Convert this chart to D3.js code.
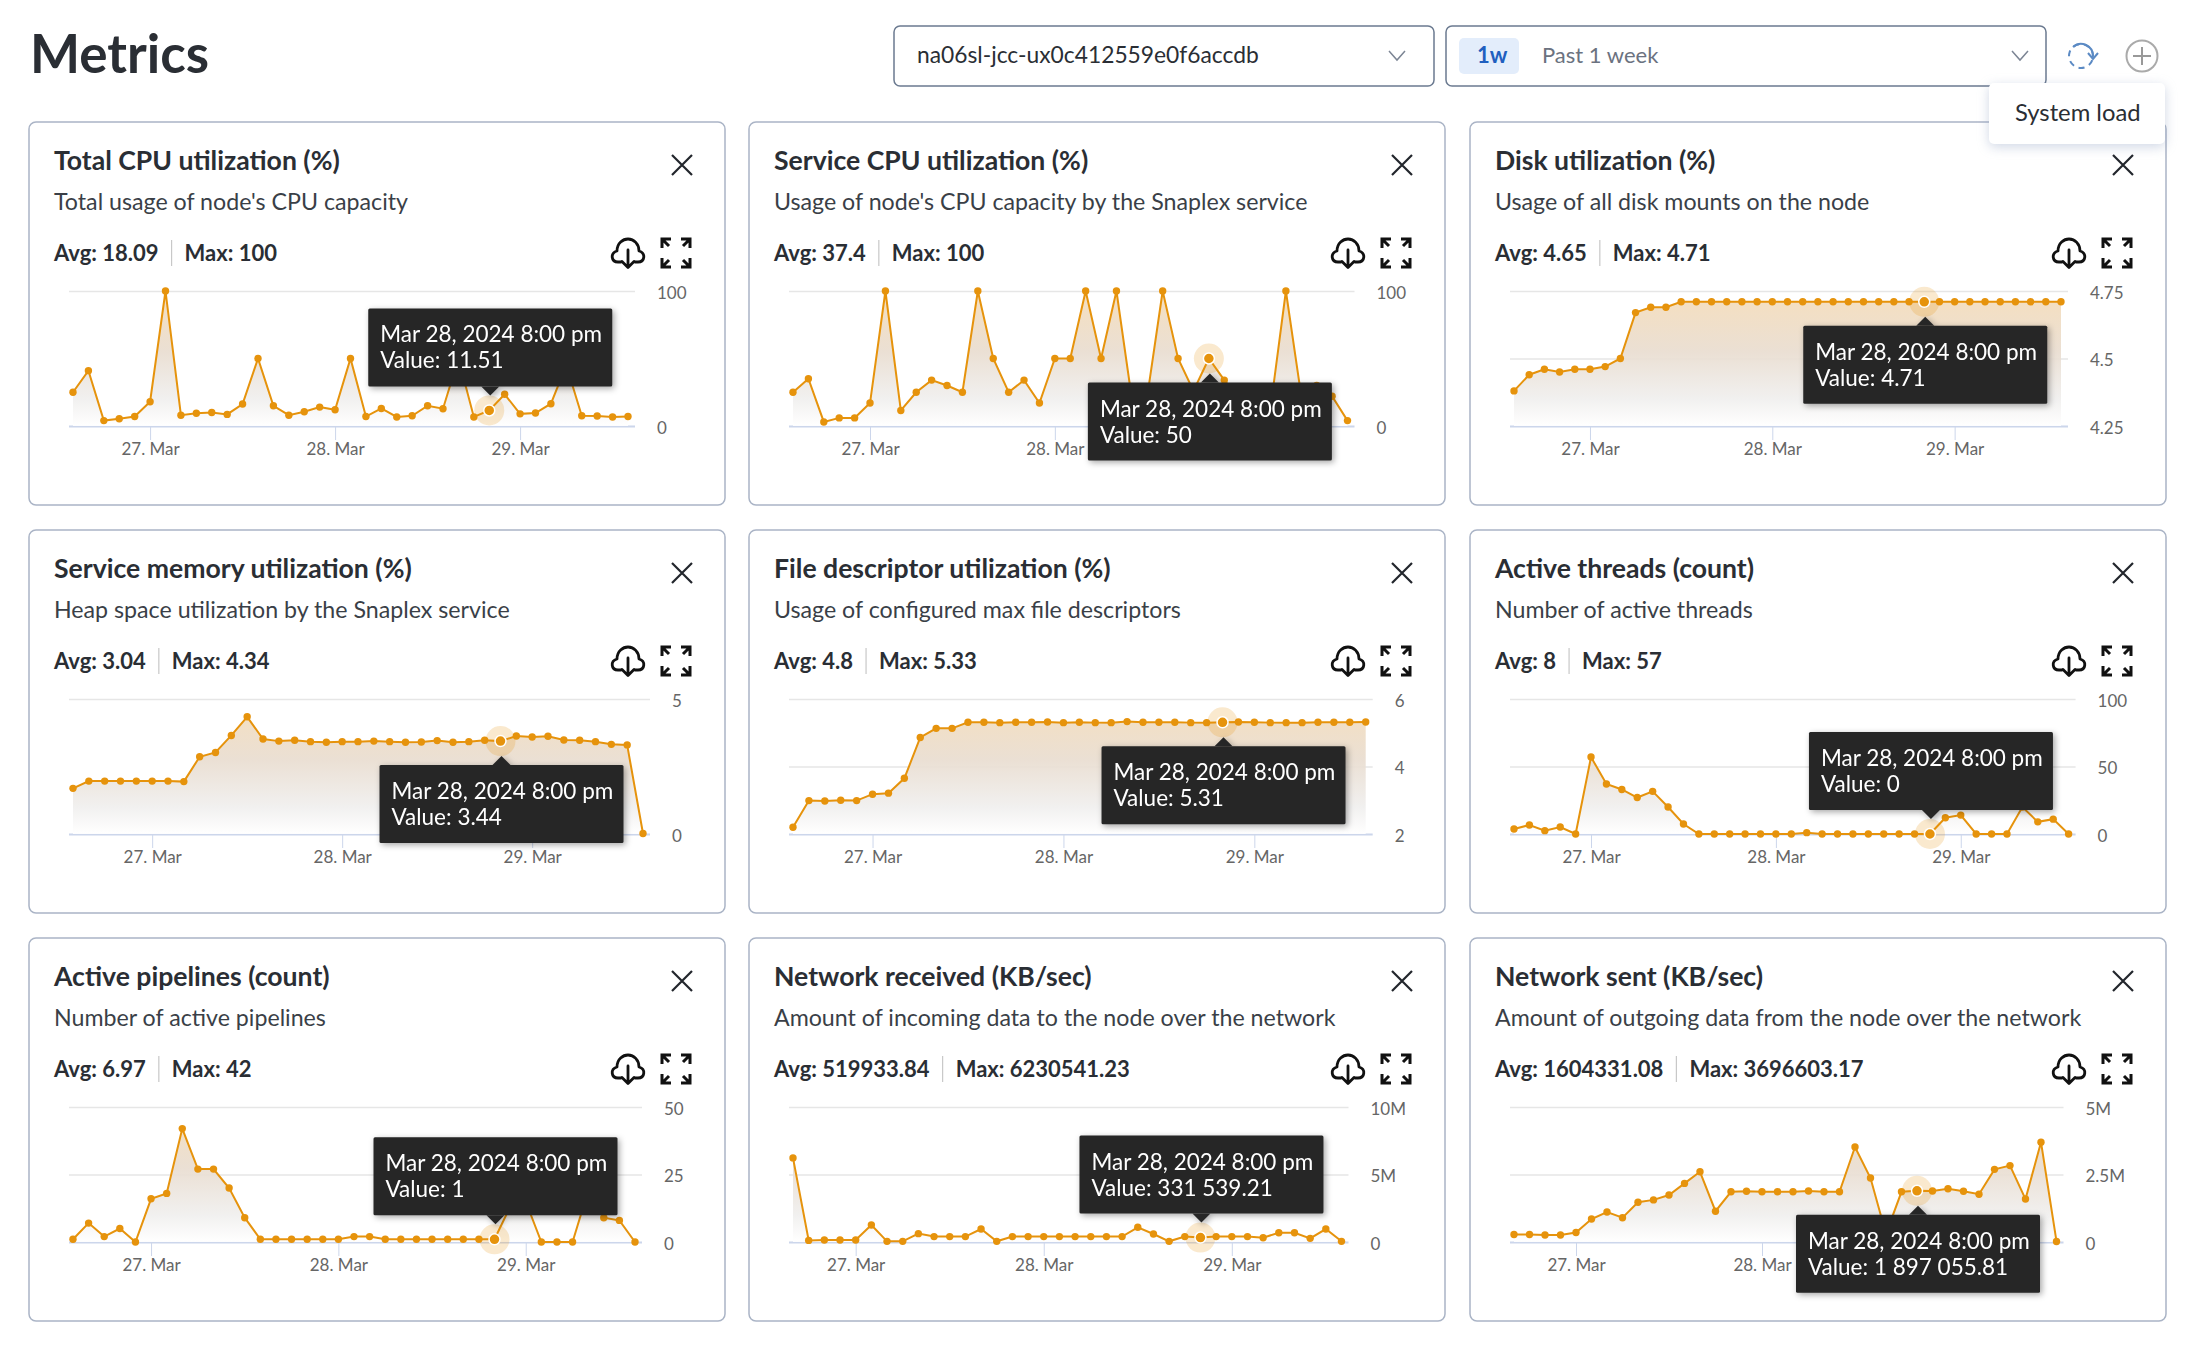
<!DOCTYPE html>
<html lang="en">
<head>
  <title>Metrics</title>
  <meta charset="utf-8">
  <script src="https://cdn.jsdelivr.net/npm/d3@7/dist/d3.min.js"></script>
  <style>
    body { margin: 0; background: #fff; }
    svg { display: block; font-family: Lato, "Noto Sans", sans-serif; }
    .title { font-size: 26.6px; font-weight: 700; fill: #2a2e34; }
    .desc { font-size: 23.2px; fill: #3a3f47; }
    .stat { font-size: 22px; font-weight: 700; fill: #2a2e34; }
    .tip { font-size: 22.5px; fill: #fff; }
    .axis text { font-size: 17px; fill: #666; font-family: Lato, sans-serif; }
  </style>
</head>
<body>
<div id="chart"></div>
<script>
// values, one point every 2 hours
var totalCpu = [25,41,4,5.4,7,18,100,8,9.4,10,8.6,16.3,50,15,8,10.6,14,12,50,7,13,6.7,7.6,15,12.8,50,6.7,11.51,23.5,9,9.6,16.5,45,7.6,7.4,6.7,7];
var serviceCpu = [25,35,3,6,6,17,100,11.5,25,34,30,25,100,50,25,34,17,50,50,100,50,100,20,22,100,50,26,50,34,20,15,13,100,22,30,22,4];
var diskUtil = [4.38,4.44,4.46,4.45,4.46,4.46,4.47,4.5,4.67,4.69,4.69,4.71,4.71,4.71,4.71,4.71,4.71,4.71,4.71,4.71,4.71,4.71,4.71,4.71,4.71,4.71,4.71,4.71,4.71,4.71,4.71,4.71,4.71,4.71,4.71,4.71,4.71];
var serviceMemory = [1.69,1.96,1.96,1.96,1.96,1.96,1.96,1.94,2.86,3.02,3.65,4.34,3.52,3.44,3.47,3.42,3.4,3.42,3.42,3.44,3.42,3.4,3.41,3.46,3.4,3.42,3.47,3.44,3.63,3.59,3.62,3.48,3.47,3.42,3.32,3.3,0.02];
var fileDescriptors = [2.2,2.99,2.98,3,2.99,3.18,3.21,3.65,4.86,5.13,5.13,5.31,5.31,5.3,5.31,5.31,5.32,5.3,5.31,5.3,5.3,5.33,5.31,5.31,5.31,5.3,5.3,5.31,5.32,5.31,5.3,5.3,5.3,5.31,5.31,5.31,5.32];
var activeThreads = [3.7,6.7,2.5,5.2,0,57,37,33,27,31.6,20,7.4,0,0,0,0,0,0,0,1,0,0,0,0,0,0,0,0,12,14,0,0,0,20,9,11,0];
var activePipelines = [1,7,2,5,0,16,18,42,27,27,20,9,1,1,1,1,1,1,2,2,1,1,1,1,1,1,1,1,13,15,0,0,0,19,9,8,0];
var networkReceived = [6230541,120000,150000,150000,150000,1260000,50000,50000,620000,400000,400000,400000,960000,50000,400000,400000,400000,400000,400000,400000,400000,400000,1090000,590000,50000,400000,331539.21,400000,400000,400000,320000,690000,690000,270000,960000,50000];
var networkSent = [280000,280000,260000,260000,350000,850000,1110000,900000,1470000,1560000,1740000,2170000,2600000,1140000,1860000,1880000,1860000,1860000,1860000,1890000,1860000,1860000,3520000,2370000,300000,1860000,1897055.81,1890000,1970000,1880000,1770000,2690000,2830000,1590000,3696603,20000];

var titles = ["Total CPU utilization (%)","Service CPU utilization (%)","Disk utilization (%)","Service memory utilization (%)","File descriptor utilization (%)","Active threads (count)","Active pipelines (count)","Network received (KB/sec)","Network sent (KB/sec)"];
var descriptions = ["Total usage of node's CPU capacity","Usage of node's CPU capacity by the Snaplex service","Usage of all disk mounts on the node","Heap space utilization by the Snaplex service","Usage of configured max file descriptors","Number of active threads","Number of active pipelines","Amount of incoming data to the node over the network","Amount of outgoing data from the node over the network"];
var averages = ["18.09","37.4","4.65","3.04","4.8","8","6.97","519933.84","1604331.08"];
var maximums = ["100","100","4.71","4.34","5.33","57","42","6230541.23","3696603.17"];
var tipValues = ["11.51","50","4.71","3.44","5.31","0","1","331 539.21","1 897 055.81"];
var yTicks = [[0,100],[0,100],[4.25,4.5,4.75],[0,5],[2,4,6],[0,50,100],[0,25,50],[0,5000000,10000000],[0,2500000,5000000]];
var yLabels = [["0","100"],["0","100"],["4.25","4.5","4.75"],["0","5"],["2","4","6"],["0","50","100"],["0","25","50"],["0","5M","10M"],["0","2.5M","5M"]];
var dayTicks = [new Date(2024,2,27), new Date(2024,2,28), new Date(2024,2,29)];
var hoverTime = new Date(2024,2,28,20);
var hoverLabel = "Mar 28, 2024 8:00 pm";

var seriesList = [totalCpu,serviceCpu,diskUtil,serviceMemory,fileDescriptors,activeThreads,activePipelines,networkReceived,networkSent];

// layout
var panelLeft = [29,749,1470], panelTop = [122,530,938];
var panelW = 696, panelH = 383;
var gridWidths = [566,565.5,558,581,583.7,565.6,573,559.5,553.5];
var tipBelow = [false,true,true,true,true,false,false,false,true];
var orange = "#e6930c";

var svg = d3.select("#chart").append("svg").attr("width",2194).attr("height",1346);
var defs = svg.append("defs");

function cloudIcon(g, cx, cy){
  var i = g.append("g").attr("transform","translate("+cx+","+cy+")").attr("fill","none").attr("stroke","#111").attr("stroke-width",2.8).attr("stroke-linecap","round").attr("stroke-linejoin","round");
  i.append("path").attr("d","M-7,9 H-10 C-17,9 -18,0 -11,-2 C-11,-10 -5,-14 0,-14 C6,-14 11,-9 11,-2 C18,0 17,9 10,9 H7");
  i.append("path").attr("d","M0,-3 V14 M-6,8.5 L0,14.5 L6,8.5");
}

function expandIcon(g, cx, cy){
  var i = g.append("g").attr("transform","translate("+cx+","+cy+")").attr("fill","none").attr("stroke","#111").attr("stroke-width",3);
  [[-1,-1],[1,-1],[-1,1],[1,1]].forEach(function(s){
    i.append("path").attr("d","M"+(s[0]*14)+","+(s[1]*5)+" V"+(s[1]*14)+" H"+(s[0]*5)+" M"+(s[0]*14)+","+(s[1]*14)+" L"+(s[0]*7)+","+(s[1]*7));
  });
}

function drawPanel(n){
  var px = panelLeft[n%3], py = panelTop[Math.floor(n/3)];
  var g = svg.append("g");
  var values = seriesList[n];

  g.append("rect").attr("x",px).attr("y",py).attr("width",panelW).attr("height",panelH).attr("rx",7)
    .attr("fill","#fff").attr("stroke","#aab4c6").attr("stroke-width",1.5);
  g.append("text").attr("class","title").attr("x",px+25).attr("y",py+48).text(titles[n]);
  g.append("text").attr("class","desc").attr("x",px+25).attr("y",py+88).text(descriptions[n]);

  var avg = g.append("text").attr("class","stat").attr("x",px+25).attr("y",py+139).text("Avg: "+averages[n]);
  var avgEnd = px + 25 + avg.node().getComputedTextLength();
  g.append("line").attr("x1",avgEnd+13).attr("x2",avgEnd+13).attr("y1",py+118).attr("y2",py+144).attr("stroke","#c8c8c8").attr("stroke-width",1.2);
  g.append("text").attr("class","stat").attr("x",avgEnd+26).attr("y",py+139).text("Max: "+maximums[n]);

  g.append("path").attr("d","M"+(px+643)+","+(py+33)+" l20,20 m0,-20 l-20,20").attr("stroke","#22262c").attr("stroke-width",2.2).attr("fill","none");
  cloudIcon(g, px+599, py+131);
  expandIcon(g, px+647, py+131);

  // series start at 14:00 or 16:00 on Mar 26, all end at 14:00 on Mar 29
  var endTime = new Date(2024,2,29,14);
  var times = values.map(function(v,i){ return d3.timeHour.offset(endTime, -2*(values.length-1-i)); });
  var gridL = px+40, gridR = gridL+gridWidths[n];
  var ticks = yTicks[n];
  var yTop = py+169, yBase = py+304;
  var x = d3.scaleTime().domain([times[0], endTime]).range([gridL+4, gridR-7]);
  var y = d3.scaleLinear().domain([ticks[0], ticks[ticks.length-1]]).range([yBase, yTop]);

  var yAxis = g.append("g").attr("class","axis").attr("transform","translate("+gridR+",0)")
    .call(d3.axisRight(y).tickValues(ticks).tickSize(-(gridR-gridL)).tickPadding(22)
      .tickFormat(function(d,i){ return yLabels[n][i]; }));
  yAxis.select(".domain").remove();
  yAxis.selectAll("line").attr("stroke","#e6e6e6").attr("stroke-width",1.5);
  yAxis.selectAll("text").attr("dy","0.42em");
  yAxis.selectAll(".tick").filter(function(d,i){ return i==0; }).select("line").attr("stroke","#ccd6eb").attr("stroke-width",2);

  var xAxis = g.append("g").attr("class","axis").attr("transform","translate(0,"+yBase+")")
    .call(d3.axisBottom(x).tickValues(dayTicks).tickSize(14).tickPadding(3).tickFormat(d3.timeFormat("%-d. %b")));
  xAxis.select(".domain").remove();
  xAxis.selectAll("line").attr("stroke","#ccd6eb");

  var pts = values.map(function(v,i){ return {t:times[i], v:v}; });
  var marks = g.append("g");
  var area = d3.area().x(function(d){ return x(d.t); }).y0(yBase).y1(function(d){ return y(d.v); });
  var line = d3.line().x(function(d){ return x(d.t); }).y(function(d){ return y(d.v); });
  var gradId = "fade"+n;
  var pg = defs.append("linearGradient").attr("id",gradId).attr("gradientUnits","userSpaceOnUse").attr("x1",0).attr("x2",0).attr("y1",yTop).attr("y2",yBase);
  pg.append("stop").attr("offset","0").attr("stop-color","#f5dcb8");
  pg.append("stop").attr("offset","0.45").attr("stop-color","#e9ddd0");
  pg.append("stop").attr("offset","0.8").attr("stop-color","#f0efee");
  pg.append("stop").attr("offset","1").attr("stop-color","#ffffff");
  marks.append("path").datum(pts).attr("d",area).attr("fill","url(#"+gradId+")").attr("fill-opacity",0.92);
  marks.append("path").datum(pts).attr("d",line).attr("fill","none").attr("stroke",orange).attr("stroke-width",2);
  marks.selectAll("circle.pt").data(pts).enter().append("circle").attr("class","pt")
    .attr("cx",function(d){ return x(d.t); }).attr("cy",function(d){ return y(d.v); }).attr("r",3.7).attr("fill",orange);

  var hover = pts.filter(function(d){ return +d.t == +hoverTime; })[0];
  var hx = x(hover.t), hy = y(hover.v);
  g.append("circle").attr("cx",hx).attr("cy",hy).attr("r",15).attr("fill",orange).attr("fill-opacity",0.2);
  g.append("circle").attr("cx",hx).attr("cy",hy).attr("r",5.5).attr("fill",orange).attr("stroke","#fff").attr("stroke-width",1.5);

  // tooltip, a fixed distance above or below the hovered point
  var tw = 244, th = 78;
  var below = tipBelow[n];
  var tipY = below ? hy+24 : hy-24-th;
  var tipX = hx+1-tw/2;
  var tip = g.append("g").style("filter","drop-shadow(2px 2px 3px rgba(0,0,0,.35))");
  var arrow = below
    ? "M"+(hx+1-9)+","+(hy+24)+" L"+(hx+1)+","+(hy+15)+" L"+(hx+1+9)+","+(hy+24)+"Z"
    : "M"+(hx+1-9)+","+(hy-24)+" L"+(hx+1)+","+(hy-15)+" L"+(hx+1+9)+","+(hy-24)+"Z";
  tip.append("path").attr("d",arrow).attr("fill","#262626");
  tip.append("rect").attr("x",tipX).attr("y",tipY).attr("width",tw).attr("height",th).attr("rx",1.5).attr("fill","#262626");
  tip.append("text").attr("class","tip").attr("x",tipX+12).attr("y",tipY+34).text(hoverLabel);
  tip.append("text").attr("class","tip").attr("x",tipX+12).attr("y",tipY+60).text("Value: "+tipValues[n]);
}

function chevron(x, y){
  svg.append("path").attr("d","M"+(x-8)+","+(y-5)+" L"+x+","+(y+4)+" L"+(x+8)+","+(y-5)).attr("fill","none").attr("stroke","#7c8594").attr("stroke-width",1.5);
}

d3.range(9).forEach(drawPanel);

// header
svg.append("text").attr("x",30).attr("y",73).attr("font-size",53).attr("font-weight",700).attr("fill","#2a2e34").text("Metrics");
svg.append("rect").attr("x",894).attr("y",26).attr("width",540).attr("height",60).attr("rx",6).attr("fill","#fff").attr("stroke","#6b7a90").attr("stroke-width",1.5);
svg.append("text").attr("x",917).attr("y",63).attr("font-size",22.8).attr("fill","#2a2e34").text("na06sl-jcc-ux0c412559e0f6accdb");
chevron(1397,56);
svg.append("rect").attr("x",1446).attr("y",26).attr("width",600).attr("height",60).attr("rx",6).attr("fill","#fff").attr("stroke","#6b7a90").attr("stroke-width",1.5);
svg.append("rect").attr("x",1459).attr("y",38).attr("width",60).attr("height",36).attr("rx",5).attr("fill","#e3edfb");
svg.append("text").attr("x",1477).attr("y",63).attr("font-size",22).attr("font-weight",700).attr("fill","#1f5fbf").text("1w");
svg.append("text").attr("x",1542).attr("y",63).attr("font-size",22).attr("fill","#6b7280").text("Past 1 week");
chevron(2020,56);

// refresh and add buttons
svg.append("circle").attr("cx",2081).attr("cy",56).attr("r",12).attr("fill","none").attr("stroke","#5b8ac4").attr("stroke-width",2).attr("stroke-dasharray","6 5").attr("transform","rotate(20 2081 56)");
svg.append("path").attr("d","M2073,47 A12,12 0 0 1 2093,56").attr("fill","none").attr("stroke","#5b8ac4").attr("stroke-width",2);
svg.append("path").attr("d","M2088,53 L2093,59 L2098,53").attr("fill","none").attr("stroke","#5b8ac4").attr("stroke-width",2);
svg.append("circle").attr("cx",2142).attr("cy",56).attr("r",15.5).attr("fill","none").attr("stroke","#aaa").attr("stroke-width",2);
svg.append("path").attr("d","M2142,47 V65 M2133,56 H2151").attr("stroke","#999").attr("stroke-width",2);

// popup over the third panel
svg.append("rect").attr("x",1989).attr("y",83).attr("width",176).attr("height",61).attr("rx",5).attr("fill","#fff")
  .style("filter","drop-shadow(0 3px 6px rgba(120,140,180,.35))");
svg.append("text").attr("x",2015).attr("y",121).attr("font-size",23.8).attr("fill","#2a2e34").text("System load");
</script>
</body>
</html>
